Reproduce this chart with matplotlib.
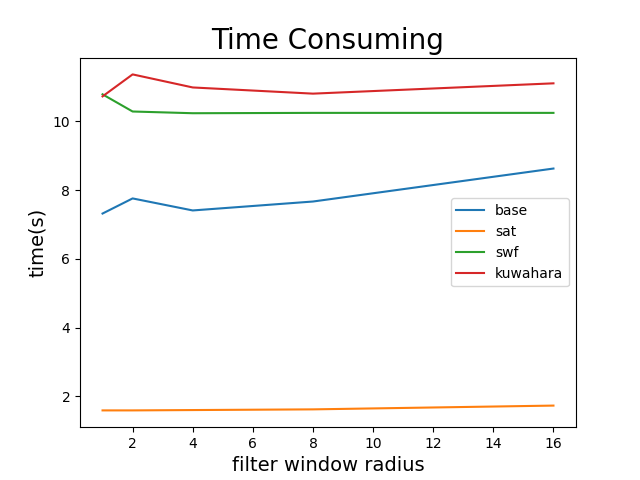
import matplotlib
matplotlib.use("Agg")
import matplotlib.pyplot as plt

radius = [1, 2, 4, 8, 16]
base = [7.32, 7.76, 7.41, 7.67, 8.63]
sat = [1.59, 1.59, 1.60, 1.62, 1.73]
swf = [10.79, 10.29, 10.24, 10.25, 10.25]
kuwahara = [10.73, 11.37, 10.99, 10.81, 11.11]

plt.figure(figsize=(6.4, 4.8))
plt.plot(radius, base, label="base")
plt.plot(radius, sat, label="sat")
plt.plot(radius, swf, label="swf")
plt.plot(radius, kuwahara, label="kuwahara")
plt.xlabel("filter window radius", fontsize=14)
plt.ylabel("time(s)", fontsize=14)
plt.title("Time Consuming", fontsize=20)
plt.xticks([2, 4, 6, 8, 10, 12, 14, 16])
plt.legend(loc="center right")
plt.savefig("out.png", dpi=100)
